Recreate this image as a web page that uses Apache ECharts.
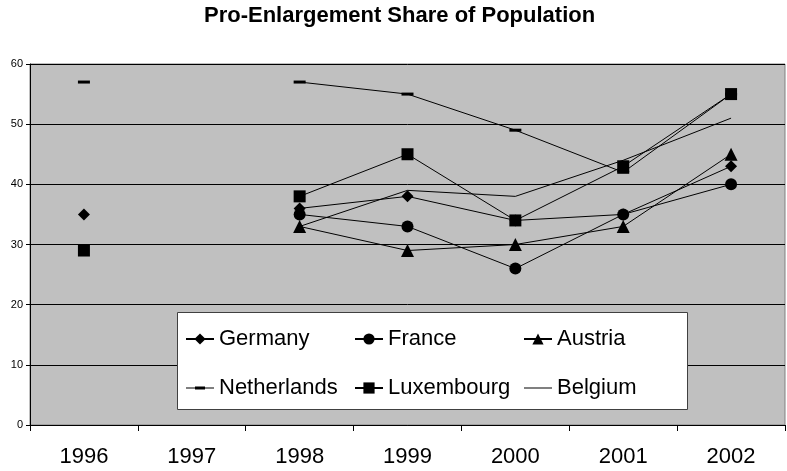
<!DOCTYPE html>
<html>
<head>
<meta charset="utf-8">
<script src="https://cdn.jsdelivr.net/npm/echarts@6/dist/echarts.min.js"></script>
<style>html,body{margin:0;padding:0;background:#fff}#c{width:787px;height:471px}</style>
</head>
<body>
<div id="c"></div>
<script>
const years = ['1996', '1997', '1998', '1999', '2000', '2001', '2002'];
const germany = [35, null, 36, 38, 34, 35, 43];
const france = [null, null, 35, 33, 26, 35, 40];
const austria = [null, null, 33, 29, 30, 33, 45];
const netherlands = [57, null, 57, 55, 49, 42, 55];
const luxembourg = [29, null, 38, 45, 34, 43, 55];
const belgium = [null, null, 33, 39, 38, 44, 51];
const yTicks = [0, 10, 20, 30, 40, 50, 60];

const FONT = 'Liberation Sans';
const chart = echarts.init(document.getElementById('c'), null, {renderer: 'canvas'});

function mk(name, data, symbol, size) {
  return {
    name: name, type: 'line', data: data,
    symbol: symbol, symbolSize: size, showAllSymbol: true,
    connectNulls: false,
    lineStyle: {color: '#000', width: 1},
    itemStyle: {color: '#000'},
    emphasis: {disabled: true},
    animation: false, z: 3
  };
}

const legendCommon = {
  orient: 'vertical', padding: 0, itemGap: 27, itemWidth: 28, itemHeight: 14,
  textStyle: {fontFamily: FONT, fontSize: 22, color: '#000'},
  selectedMode: false, z: 10, top: 328
};

chart.setOption({
  animation: false,
  backgroundColor: '#fff',
  title: {
    text: 'Pro-Enlargement Share of Population',
    left: 204, top: 5, padding: 0,
    textStyle: {fontFamily: FONT, fontSize: 22, fontWeight: 'bold', color: '#000'}
  },
  grid: {
    left: 30, right: 2, top: 64, bottom: 46,
    show: true, backgroundColor: '#C0C0C0', borderColor: '#808080', borderWidth: 1
  },
  xAxis: {
    type: 'category', data: years, boundaryGap: true,
    axisLine: {lineStyle: {color: '#000', width: 1}},
    axisTick: {show: true, length: 6, alignWithLabel: false, lineStyle: {color: '#000'}},
    axisLabel: {fontFamily: FONT, fontSize: 22, color: '#000', margin: 21},
    splitLine: {show: false}
  },
  yAxis: {
    type: 'value', min: yTicks[0], max: yTicks[yTicks.length - 1], interval: 10,
    axisLine: {show: true, lineStyle: {color: '#000', width: 1}},
    axisTick: {show: true, length: 4, lineStyle: {color: '#000'}},
    axisLabel: {fontFamily: FONT, fontSize: 11, color: '#000', margin: 7},
    splitLine: {show: true, lineStyle: {color: '#000', width: 1}}
  },
  graphic: [{
    type: 'rect', z: 8,
    shape: {x: 177.5, y: 312.5, width: 510, height: 97},
    style: {fill: '#fff', stroke: '#404040', lineWidth: 1}
  }],
  legend: [
    Object.assign({}, legendCommon, {left: 185, data: [{name: 'Germany'}, {name: 'Netherlands', icon: 'path://M0,5.5H28V6.5H0Z M9,4.5H19V7.5H9Z'}]}),
    Object.assign({}, legendCommon, {left: 354, data: ['France', 'Luxembourg']}),
    Object.assign({}, legendCommon, {left: 523, data: [{name: 'Austria'}, {name: 'Belgium', icon: 'path://M0,0H28V1H0Z'}]})
  ],
  series: [
    mk('Germany', germany, 'diamond', 12),
    mk('France', france, 'circle', 12),
    mk('Austria', austria, 'triangle', 13),
    mk('Netherlands', netherlands, 'rect', [12, 3]),
    mk('Luxembourg', luxembourg, 'rect', 12),
    mk('Belgium', belgium, 'none', 1)
  ]
});
</script>
</body>
</html>
